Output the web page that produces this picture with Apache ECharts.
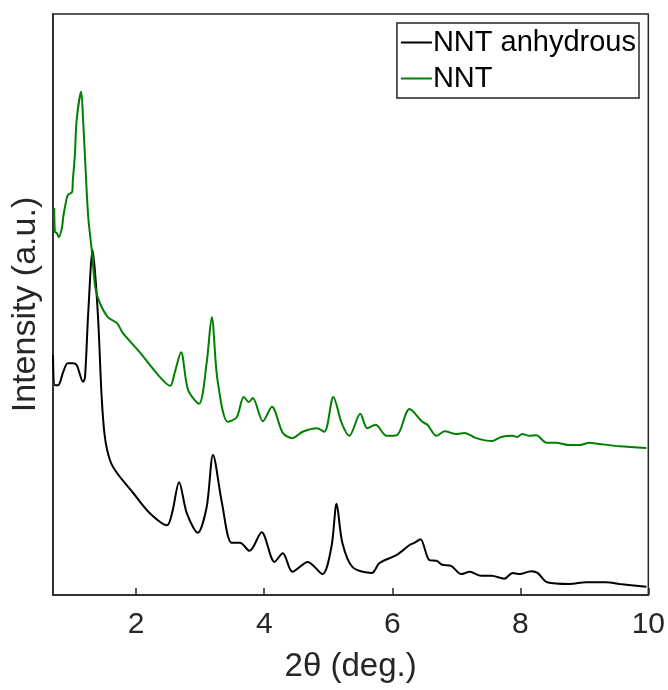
<!DOCTYPE html>
<html>
<head>
<meta charset="utf-8">
<script src="https://cdn.jsdelivr.net/npm/echarts@6/dist/echarts.min.js"></script>
<style>html,body{margin:0;padding:0;background:#fff;}#c{width:668px;height:690px;}</style>
</head>
<body>
<div id="c"></div>
<script>
// 2θ (deg.) and intensity (a.u.)
const anhydrousX = [0.70,0.73,0.78,0.86,0.93,1.01,1.07,1.17,1.20,1.25,1.32,1.40,1.46,1.51,1.59,1.70,1.95,2.21,2.48,2.56,2.67,2.79,2.96,3.10,3.20,3.34,3.49,3.62,3.77,3.96,4.16,4.29,4.44,4.68,4.91,5.05,5.13,5.22,5.38,5.68,5.80,6.07,6.27,6.35,6.44,6.58,6.69,6.78,6.92,7.08,7.21,7.39,7.55,7.75,7.88,7.99,8.17,8.27,8.42,8.77,9.03,9.34,9.55,9.97];
const anhydrousY = [41.3,36.1,36.1,38.4,39.9,39.9,39.6,36.7,37.5,48.5,59.4,48.5,34.1,27.2,23.2,21.0,17.6,14.1,12.0,14.1,19.4,14.1,10.7,15.1,24.1,15.8,9.0,9.0,7.6,10.8,5.7,7.2,4.0,5.7,3.6,8.3,15.7,9.0,4.8,3.8,5.5,6.9,8.6,9.0,9.6,6.0,5.9,5.2,5.0,3.6,4.0,3.3,3.3,2.8,3.8,3.6,4.1,3.8,2.2,1.9,2.2,2.2,1.9,1.4];
const nntX = [0.72,0.73,0.76,0.79,0.84,0.86,0.90,0.93,1.00,1.01,1.04,1.07,1.14,1.17,1.21,1.25,1.31,1.36,1.43,1.56,1.70,1.79,2.06,2.34,2.53,2.60,2.70,2.81,2.98,3.10,3.18,3.27,3.43,3.57,3.68,3.76,3.82,3.98,4.12,4.29,4.44,4.60,4.82,4.94,5.08,5.21,5.33,5.50,5.61,5.74,5.91,6.07,6.27,6.47,6.55,6.69,6.82,7.00,7.13,7.31,7.56,7.70,7.88,7.95,8.03,8.14,8.25,8.41,8.56,8.77,8.92,9.08,9.23,9.55,9.97];
const nntY = [66.6,62.5,62.3,61.6,63.2,65.1,67.5,68.8,69.4,71.4,75.4,81.8,86.6,81.8,73.1,65.1,58.9,53.0,50.3,47.8,46.8,45.1,41.7,37.9,36.0,38.2,41.8,35.3,32.9,39.9,47.8,37.0,29.8,30.6,34.1,33.2,33.9,29.9,32.4,27.9,27.0,28.1,28.7,28.1,34.1,29.6,27.4,31.2,28.7,29.3,27.4,27.5,32.0,29.8,29.3,27.4,28.2,27.7,27.9,27.0,26.5,27.2,27.4,27.2,27.7,27.4,27.5,26.2,26.2,25.8,25.8,26.2,26.0,25.6,25.3];
const xTicks = [2,4,6,8,10];
const seriesNames = ['NNT anhydrous','NNT'];

const pair = (xs, ys) => xs.map((x, i) => [x, ys[i]]);
const axisColor = '#262626';
const font = 'Liberation Sans, Arial, Helvetica, sans-serif';

const chart = echarts.init(document.getElementById('c'), null, {renderer: 'canvas'});
chart.setOption({
  animation: false,
  backgroundColor: '#fff',
  grid: {left: 53, right: 18, top: 14, bottom: 95, show: true, borderColor: axisColor, borderWidth: 1.5, containLabel: false},
  legend: {
    orient: 'vertical', right: 29, top: 23,
    data: seriesNames,
    icon: 'path://M0,0H31V2H0Z', itemWidth: 31, itemHeight: 2, itemGap: 3,
    padding: [3, 3, 3, 4],
    borderColor: axisColor, borderWidth: 1.5, backgroundColor: '#fff',
    textStyle: {fontFamily: font, fontSize: 29, color: '#000', lineHeight: 33, padding: [0,0,0,-4]}
  },
  xAxis: {
    type: 'value', min: 0.7, max: 10,
    name: '2θ (deg.)', nameLocation: 'middle', nameGap: 55,
    nameTextStyle: {fontFamily: font, fontSize: 33, color: axisColor},
    axisLine: {show: true, onZero: false, lineStyle: {color: axisColor, width: 1.5}},
    axisTick: {show: true, inside: true, length: 7, customValues: xTicks, lineStyle: {color: axisColor, width: 1.5}},
    axisLabel: {show: true, customValues: xTicks, margin: 15, fontFamily: font, fontSize: 30, color: axisColor, showMinLabel: true, showMaxLabel: true},
    splitLine: {show: false}
  },
  yAxis: {
    type: 'value', min: 0, max: 100,
    name: 'Intensity (a.u.)', nameLocation: 'middle', nameGap: 10, nameRotate: 90,
    nameTextStyle: {fontFamily: font, fontSize: 34, color: axisColor},
    axisLine: {show: true, lineStyle: {color: axisColor, width: 1.5}},
    axisTick: {show: false}, axisLabel: {show: false}, splitLine: {show: false}
  },
  series: [
    {name: seriesNames[0], type: 'line', data: pair(anhydrousX, anhydrousY), showSymbol: false, symbol: 'none',
     smooth: 0.3, lineStyle: {color: '#000000', width: 2}, itemStyle: {color: '#000000'}},
    {name: seriesNames[1], type: 'line', data: pair(nntX, nntY), showSymbol: false, symbol: 'none',
     smooth: 0.3, lineStyle: {color: '#008000', width: 2}, itemStyle: {color: '#008000'}}
  ]
});
</script>
</body>
</html>
